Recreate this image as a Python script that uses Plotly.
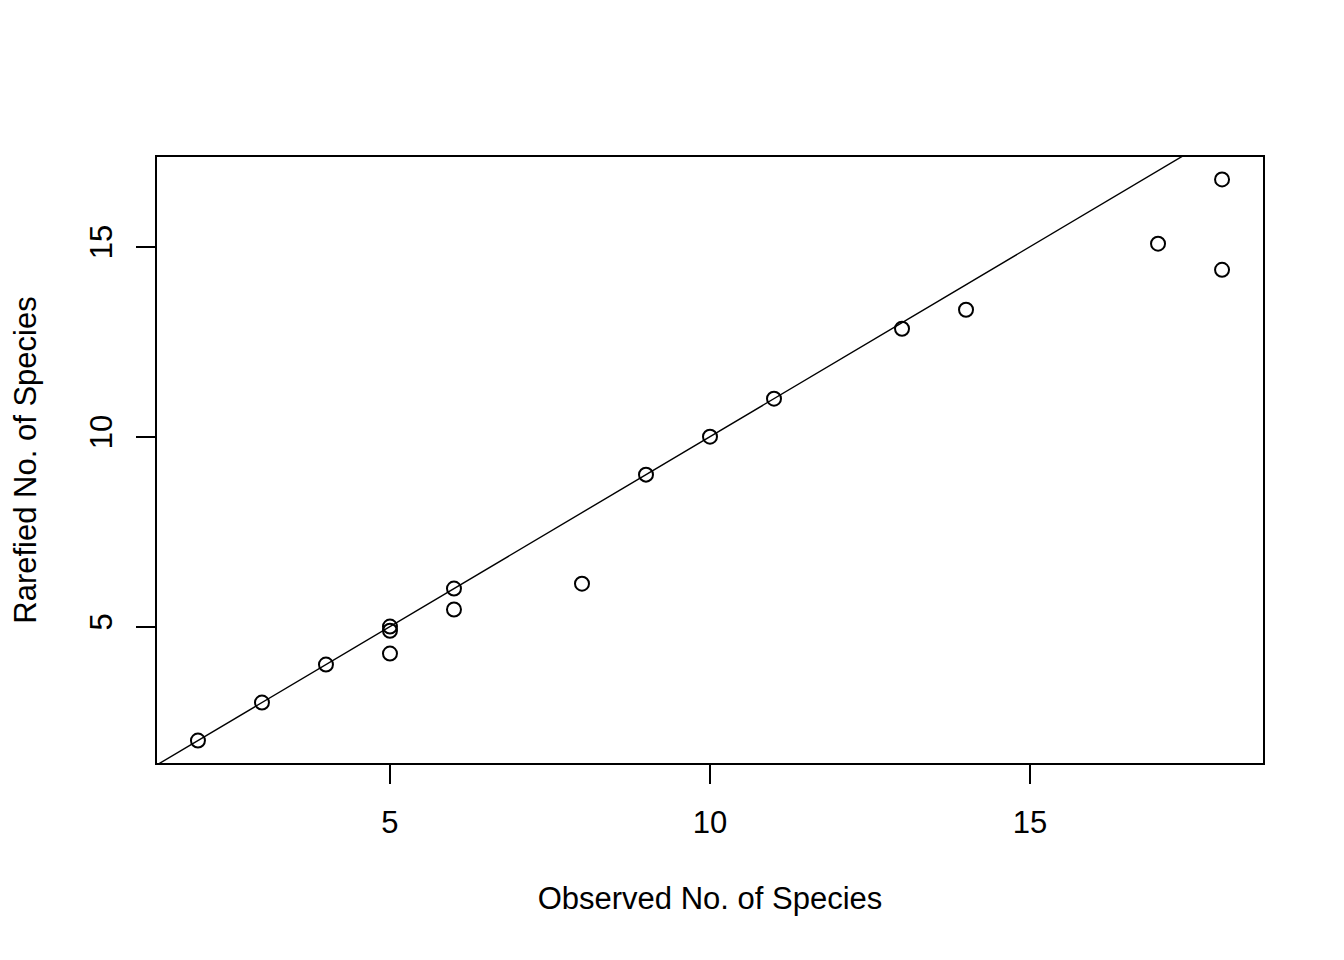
"""Observed vs rarefied species counts, with the 1:1 line."""

import plotly.graph_objects as go

observed = [2, 3, 4, 5, 5, 5, 6, 6, 8, 9, 10, 11, 13, 14, 17, 18, 18]
rarefied = [2.0, 3.0, 4.0, 5.0, 4.89, 4.29, 6.0, 5.45, 6.13, 9.0, 10.0, 11.0,
            12.84, 13.34, 15.08, 16.77, 14.39]
x_ticks = [5, 10, 15]
y_ticks = [5, 10, 15]


def r_range(vals, pad=0.04):
    # R's default axis extension of 4% each side
    lo, hi = min(vals), max(vals)
    d = (hi - lo) * pad
    return [lo - d, hi + d]


xr = r_range(observed)
yr = r_range(rarefied)
font = "Liberation Sans, Arial, sans-serif"

fig = go.Figure()

# abline(0, 1)
fig.add_trace(go.Scatter(
    x=xr, y=xr, mode="lines",
    line=dict(color="black", width=1.4),
    hoverinfo="skip", showlegend=False,
))

fig.add_trace(go.Scatter(
    x=observed, y=rarefied, mode="markers",
    marker=dict(symbol="circle-open", size=14, color="black",
                line=dict(width=2, color="black")),
    showlegend=False,
))

axis_common = dict(
    showgrid=False, zeroline=False,
    showline=True, mirror=True, linecolor="black", linewidth=1.8,
    ticks="outside", ticklen=19, tickwidth=1.8, tickcolor="black",
    tickfont=dict(family=font, size=31, color="black"),
)

fig.update_xaxes(
    range=xr, tickvals=x_ticks,
    ticklabelstandoff=12,
    title=dict(text="Observed No. of Species", standoff=48,
               font=dict(family=font, size=31, color="black")),
    **axis_common,
)
fig.update_yaxes(
    range=yr, tickvals=y_ticks, tickangle=-90,
    ticklabelstandoff=12,
    title=dict(text="Rarefied No. of Species", standoff=40,
               font=dict(family=font, size=31, color="black")),
    **axis_common,
)

# the page body adds an 8px offset, so margins are shifted to compensate
fig.update_layout(
    width=1344, height=960,
    margin=dict(l=149, r=89, t=149, b=205),
    paper_bgcolor="white", plot_bgcolor="white",
)

fig.write_html("out.html")
